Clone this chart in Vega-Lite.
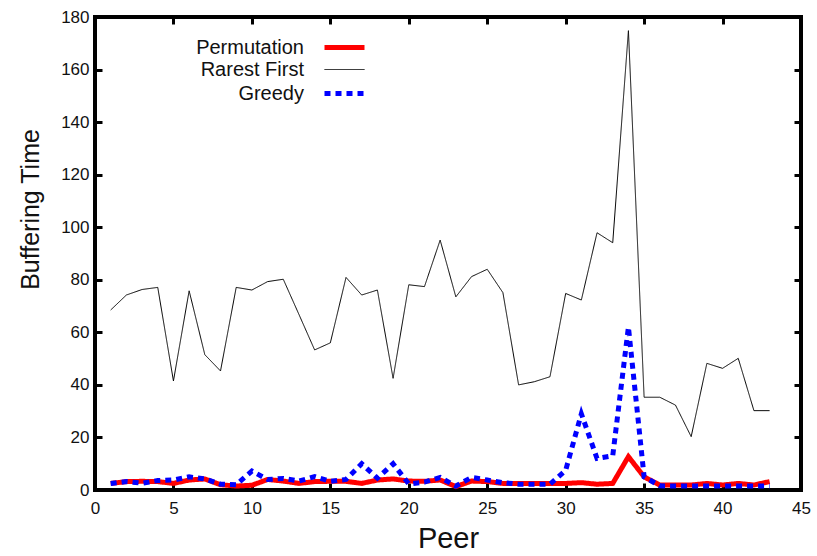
{
  "$schema": "https://vega.github.io/schema/vega-lite/v6.json",
  "width": 706,
  "height": 473,
  "autosize": "none",
  "padding": {"left": 95, "top": 17, "right": 16, "bottom": 66},
  "background": "white",
  "config": {
    "font": "Liberation Sans",
    "view": {"stroke": "black", "strokeWidth": 4},
    "axis": {"grid": false, "domain": false, "tickColor": "black", "tickWidth": 3, "tickSize": -7, "labelColor": "#111", "labelFontSize": 17, "labelFlush": false, "labelFont": "Liberation Sans", "titleFont": "Liberation Sans", "titleFontWeight": "normal", "titleColor": "#111"},
    "legend": {"title": null, "orient": "none", "legendX": 237, "legendY": 18, "padding": 0, "symbolType": "M-2,0H2", "symbolSize": 400, "labelAlign": "right", "labelOffset": -53, "labelFontSize": 20, "labelColor": "#111", "rowPadding": 1, "labelLimit": 300}
  },
  "data": {"values": [
    {"peer":1,"series":"Rarest First","t":68.5},{"peer":2,"series":"Rarest First","t":74.2},{"peer":3,"series":"Rarest First","t":76.3},{"peer":4,"series":"Rarest First","t":77.1},{"peer":5,"series":"Rarest First","t":41.5},{"peer":6,"series":"Rarest First","t":75.8},{"peer":7,"series":"Rarest First","t":51.5},{"peer":8,"series":"Rarest First","t":45.3},{"peer":9,"series":"Rarest First","t":77.1},{"peer":10,"series":"Rarest First","t":76.1},{"peer":11,"series":"Rarest First","t":79.3},{"peer":12,"series":"Rarest First","t":80.2},{"peer":13,"series":"Rarest First","t":66.8},{"peer":14,"series":"Rarest First","t":53.3},{"peer":15,"series":"Rarest First","t":56},{"peer":16,"series":"Rarest First","t":80.9},{"peer":17,"series":"Rarest First","t":74.2},{"peer":18,"series":"Rarest First","t":76.1},{"peer":19,"series":"Rarest First","t":42.5},{"peer":20,"series":"Rarest First","t":78.1},{"peer":21,"series":"Rarest First","t":77.4},{"peer":22,"series":"Rarest First","t":95.1},{"peer":23,"series":"Rarest First","t":73.5},{"peer":24,"series":"Rarest First","t":81.2},{"peer":25,"series":"Rarest First","t":84},{"peer":26,"series":"Rarest First","t":75.1},{"peer":27,"series":"Rarest First","t":40},{"peer":28,"series":"Rarest First","t":41.2},{"peer":29,"series":"Rarest First","t":43.1},{"peer":30,"series":"Rarest First","t":74.8},{"peer":31,"series":"Rarest First","t":72.3},{"peer":32,"series":"Rarest First","t":97.9},{"peer":33,"series":"Rarest First","t":94.1},{"peer":34,"series":"Rarest First","t":174.8},{"peer":35,"series":"Rarest First","t":35.3},{"peer":36,"series":"Rarest First","t":35.3},{"peer":37,"series":"Rarest First","t":32.3},{"peer":38,"series":"Rarest First","t":20.3},{"peer":39,"series":"Rarest First","t":48.2},{"peer":40,"series":"Rarest First","t":46.3},{"peer":41,"series":"Rarest First","t":50.1},{"peer":42,"series":"Rarest First","t":30.2},{"peer":43,"series":"Rarest First","t":30.2},
    {"peer":1,"series":"Permutation","t":2.5},{"peer":2,"series":"Permutation","t":3.2},{"peer":3,"series":"Permutation","t":3.3},{"peer":4,"series":"Permutation","t":3.2},{"peer":5,"series":"Permutation","t":2.5},{"peer":6,"series":"Permutation","t":3.8},{"peer":7,"series":"Permutation","t":4.2},{"peer":8,"series":"Permutation","t":2},{"peer":9,"series":"Permutation","t":1.5},{"peer":10,"series":"Permutation","t":1.8},{"peer":11,"series":"Permutation","t":4},{"peer":12,"series":"Permutation","t":3.4},{"peer":13,"series":"Permutation","t":2.5},{"peer":14,"series":"Permutation","t":3.2},{"peer":15,"series":"Permutation","t":3.3},{"peer":16,"series":"Permutation","t":3.3},{"peer":17,"series":"Permutation","t":2.5},{"peer":18,"series":"Permutation","t":3.8},{"peer":19,"series":"Permutation","t":4.2},{"peer":20,"series":"Permutation","t":3.4},{"peer":21,"series":"Permutation","t":3.3},{"peer":22,"series":"Permutation","t":3.8},{"peer":23,"series":"Permutation","t":1.3},{"peer":24,"series":"Permutation","t":3.4},{"peer":25,"series":"Permutation","t":3.2},{"peer":26,"series":"Permutation","t":2.5},{"peer":27,"series":"Permutation","t":2.5},{"peer":28,"series":"Permutation","t":2.5},{"peer":29,"series":"Permutation","t":2.5},{"peer":30,"series":"Permutation","t":2.5},{"peer":31,"series":"Permutation","t":2.8},{"peer":32,"series":"Permutation","t":2.2},{"peer":33,"series":"Permutation","t":2.5},{"peer":34,"series":"Permutation","t":12.7},{"peer":35,"series":"Permutation","t":5},{"peer":36,"series":"Permutation","t":1.9},{"peer":37,"series":"Permutation","t":1.9},{"peer":38,"series":"Permutation","t":1.9},{"peer":39,"series":"Permutation","t":2.5},{"peer":40,"series":"Permutation","t":1.9},{"peer":41,"series":"Permutation","t":2.5},{"peer":42,"series":"Permutation","t":1.9},{"peer":43,"series":"Permutation","t":3.2},
    {"peer":1,"series":"Greedy","t":2.5},{"peer":2,"series":"Greedy","t":3.2},{"peer":3,"series":"Greedy","t":2.6},{"peer":4,"series":"Greedy","t":3.6},{"peer":5,"series":"Greedy","t":3.8},{"peer":6,"series":"Greedy","t":5},{"peer":7,"series":"Greedy","t":4.2},{"peer":8,"series":"Greedy","t":2.2},{"peer":9,"series":"Greedy","t":2},{"peer":10,"series":"Greedy","t":7.2},{"peer":11,"series":"Greedy","t":4},{"peer":12,"series":"Greedy","t":4.4},{"peer":13,"series":"Greedy","t":3.4},{"peer":14,"series":"Greedy","t":5.1},{"peer":15,"series":"Greedy","t":3.3},{"peer":16,"series":"Greedy","t":4},{"peer":17,"series":"Greedy","t":10},{"peer":18,"series":"Greedy","t":4.5},{"peer":19,"series":"Greedy","t":10},{"peer":20,"series":"Greedy","t":2.3},{"peer":21,"series":"Greedy","t":3},{"peer":22,"series":"Greedy","t":4.8},{"peer":23,"series":"Greedy","t":1.5},{"peer":24,"series":"Greedy","t":4.8},{"peer":25,"series":"Greedy","t":3.8},{"peer":26,"series":"Greedy","t":2.8},{"peer":27,"series":"Greedy","t":2.2},{"peer":28,"series":"Greedy","t":2.2},{"peer":29,"series":"Greedy","t":2.2},{"peer":30,"series":"Greedy","t":7.5},{"peer":31,"series":"Greedy","t":29},{"peer":32,"series":"Greedy","t":12},{"peer":33,"series":"Greedy","t":13},{"peer":34,"series":"Greedy","t":62},{"peer":35,"series":"Greedy","t":5},{"peer":36,"series":"Greedy","t":1.6},{"peer":37,"series":"Greedy","t":1.5},{"peer":38,"series":"Greedy","t":1.5},{"peer":39,"series":"Greedy","t":1.5},{"peer":40,"series":"Greedy","t":1.5},{"peer":41,"series":"Greedy","t":1.5},{"peer":42,"series":"Greedy","t":1.5},{"peer":43,"series":"Greedy","t":1.5}
  ]},
  "layer": [
    {
      "mark": {"type": "line", "strokeCap": "butt", "strokeJoin": "miter"},
      "encoding": {
        "x": {"field": "peer", "type": "quantitative", "scale": {"domain": [0, 45], "nice": false},
              "axis": {"orient": "bottom", "values": [0,5,10,15,20,25,30,35,40,45], "title": "Peer", "titleFontSize": 29, "labelPadding": 17, "titlePadding": 8}},
        "y": {"field": "t", "type": "quantitative", "scale": {"domain": [0, 180], "nice": false},
              "axis": {"orient": "left", "values": [0,20,40,60,80,100,120,140,160,180], "title": "Buffering Time", "titleFontSize": 25, "labelPadding": 13, "titlePadding": 17, "titleY": 192}},
        "color": {"field": "series", "type": "nominal",
                  "scale": {"domain": ["Permutation", "Rarest First", "Greedy"], "range": ["#ff0000", "#000000", "#0000ff"]}},
        "strokeWidth": {"field": "series", "type": "nominal",
                  "scale": {"type": "ordinal", "domain": ["Permutation", "Rarest First", "Greedy"], "range": [5, 1, 5]}},
        "strokeDash": {"field": "series", "type": "nominal",
                  "scale": {"type": "ordinal", "domain": ["Permutation", "Rarest First", "Greedy"], "range": [[1, 0], [1, 0], [6, 5]]}}
      }
    },
    {
      "mark": {"type": "point", "opacity": 0},
      "encoding": {
        "x": {"field": "peer", "type": "quantitative", "axis": {"orient": "top", "values": [0,5,10,15,20,25,30,35,40,45], "labels": false, "title": null}},
        "y": {"field": "t", "type": "quantitative", "axis": {"orient": "right", "values": [0,20,40,60,80,100,120,140,160,180], "labels": false, "title": null}}
      }
    }
  ]
}
